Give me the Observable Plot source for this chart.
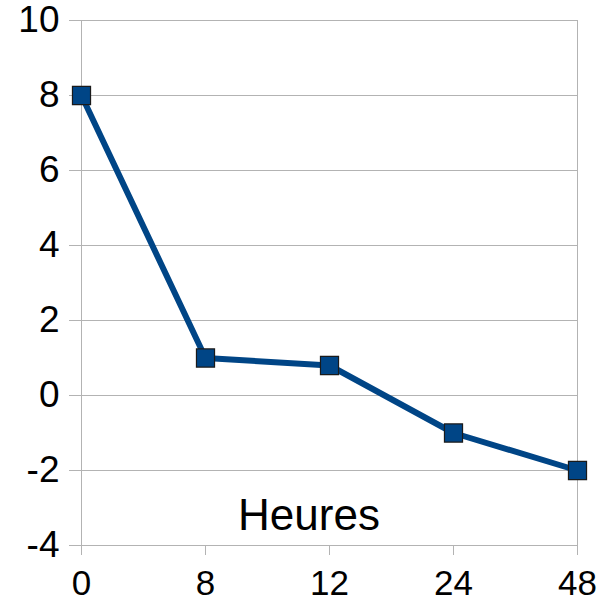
<!DOCTYPE html>
<html>
<head>
<meta charset="utf-8">
<script src="https://cdn.jsdelivr.net/npm/d3@7"></script>
<script src="https://cdn.jsdelivr.net/npm/@observablehq/plot@0.6"></script>
<style>
  html, body { margin: 0; padding: 0; background: #fff; }
  svg { font-family: "Liberation Sans", Arial, sans-serif; }
</style>
</head>
<body>
<div id="chart"></div>
<script>
const hours = ["0", "8", "12", "24", "48"];
const values = [8, 1, 0.8, -1, -2];
const yTicks = [-4, -2, 0, 2, 4, 6, 8, 10];
const xLabel = "Heures";

const data = hours.map((h, i) => ({ h, v: values[i] }));
const blue = "#004586";
const grid = "#b3b3b3";

const chart = Plot.plot({
  width: 605,
  height: 602,
  marginLeft: 80,
  marginRight: 28,
  marginTop: 20,
  marginBottom: 57,
  style: { fontFamily: "Liberation Sans, Arial, sans-serif", color: "#000", background: "#fff" },
  x: { type: "point", domain: hours, padding: 0, label: null },
  y: { domain: [-4, 10], label: null },
  marks: [
    Plot.gridY(yTicks, { stroke: grid, strokeOpacity: 1, strokeWidth: 1 }),
    Plot.ruleX([hours[0], hours[hours.length - 1]], { stroke: grid, strokeWidth: 1 }),
    Plot.axisY(yTicks, { tickSize: 11, tickPadding: 10, fontSize: 37, stroke: grid, fill: "#000", label: null, tickFormat: d => String(d) }),
    Plot.axisX(hours, { tickSize: 10, tickPadding: 15, fontSize: 35, stroke: grid, fill: "#000", label: null }),
    Plot.line(data, { x: "h", y: "v", stroke: blue, strokeWidth: 6 }),
    Plot.dot(data, { x: "h", y: "v", symbol: "square", r: 10.2, fill: blue, stroke: "#1a1a1a", strokeWidth: 1.2 }),
    Plot.text([xLabel], { frameAnchor: "bottom", lineAnchor: "middle", dy: -30, dx: -20, fontSize: 44, fill: "#000" })
  ]
});
document.getElementById("chart").appendChild(chart);
</script>
</body>
</html>
